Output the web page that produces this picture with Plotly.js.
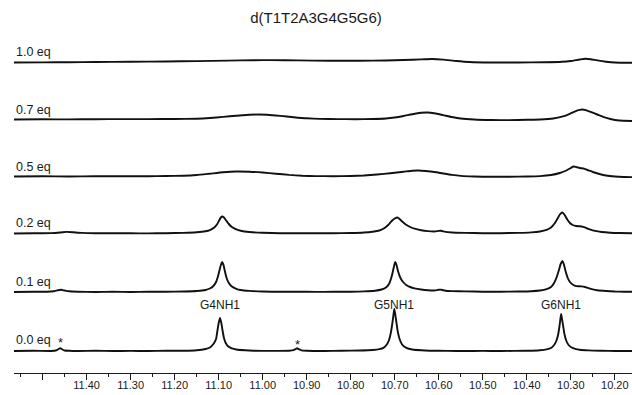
<!DOCTYPE html>
<html><head><meta charset="utf-8">
<script src="https://cdn.plot.ly/plotly-3.0.1.min.js"></script>
<style>html,body{margin:0;padding:0;background:#fff}#chart{width:632px;height:395px}</style>
</head><body><div id="chart"></div>
<script>
// ---- data (ppm, intensity) ----
const eqLabels = ['0.0 eq', '0.1 eq', '0.2 eq', '0.5 eq', '0.7 eq', '1.0 eq'];

const spec00 = [[11.565,0],[11.52,0.2],[11.48,0],[11.47,0.5],[11.465,1.5],[11.46,2.8],[11.455,1.5],[11.45,0.5],[11.44,0.2],[11.42,0],[11.38,0.2],[11.34,0],[11.30,0.1],[11.26,0],[11.22,0.2],[11.18,0.3],[11.15,0.8],[11.13,2],[11.12,3.5],[11.112,7],[11.106,12],[11.103,20],[11.100,28],[11.097,33],[11.094,28],[11.091,20],[11.088,13],[11.084,8],[11.078,4.5],[11.07,2.6],[11.06,1.5],[11.04,0.7],[11.02,0.3],[10.98,0.1],[10.94,0.2],[10.93,0.8],[10.925,2],[10.922,2.8],[10.918,1.8],[10.912,0.6],[10.90,0.2],[10.86,0],[10.82,0.2],[10.78,0.5],[10.75,1],[10.735,1.8],[10.725,3.4],[10.718,6.5],[10.713,11],[10.709,18],[10.706,26],[10.703,36],[10.701,42],[10.699,37],[10.696,28],[10.693,19],[10.689,12],[10.684,7],[10.678,4.2],[10.67,2.5],[10.66,1.5],[10.64,0.7],[10.62,0.3],[10.58,0.1],[10.54,0],[10.50,0.1],[10.46,0],[10.40,0.3],[10.37,0.8],[10.355,1.6],[10.345,3],[10.338,6],[10.333,10],[10.329,16],[10.326,24],[10.324,31],[10.322,37],[10.320,32],[10.317,24],[10.314,16],[10.310,10],[10.305,6],[10.298,3.5],[10.29,2.2],[10.28,1.3],[10.26,0.6],[10.23,0.2],[10.20,0],[10.161,0]];

const spec01 = [[11.565,0],[11.52,0.2],[11.49,0.3],[11.475,0.8],[11.465,1.8],[11.458,2.2],[11.45,1.5],[11.44,0.7],[11.42,0.3],[11.38,0],[11.34,0.2],[11.30,0],[11.26,0.2],[11.22,0.3],[11.18,0.5],[11.15,1],[11.13,2],[11.12,3.5],[11.112,6],[11.106,10],[11.102,15],[11.098,22],[11.095,27],[11.092,30],[11.089,27],[11.086,21],[11.082,14],[11.077,9],[11.07,5.5],[11.06,3.2],[11.05,2],[11.03,1.1],[11.00,0.5],[10.96,0.2],[10.92,0.3],[10.88,0.1],[10.84,0.2],[10.80,0.3],[10.77,0.6],[10.745,1.3],[10.73,2.5],[10.72,4.5],[10.713,8],[10.708,14],[10.704,21],[10.701,27],[10.699,30],[10.696,27],[10.692,20],[10.687,14],[10.681,10],[10.674,7],[10.665,5],[10.655,3.6],[10.64,2.5],[10.625,1.8],[10.61,1.5],[10.60,2.2],[10.594,2.3],[10.585,1.3],[10.57,0.9],[10.54,0.6],[10.50,0.3],[10.46,0.3],[10.42,0.5],[10.39,0.8],[10.37,1.5],[10.355,2.8],[10.345,5],[10.338,9],[10.332,15],[10.327,22],[10.323,28],[10.319,31],[10.316,28],[10.312,21],[10.307,14],[10.302,10],[10.296,7.5],[10.29,6.2],[10.283,5.8],[10.276,5.6],[10.268,5],[10.26,3.8],[10.25,2.6],[10.24,1.8],[10.22,1],[10.20,0.5],[10.18,0.3],[10.161,0.2]];

const spec02 = [[11.565,0],[11.52,0.2],[11.48,0.4],[11.46,1],[11.445,1.6],[11.43,1.2],[11.41,0.6],[11.38,0.3],[11.34,0.2],[11.30,0.2],[11.26,0.1],[11.22,0.3],[11.18,0.6],[11.15,1.2],[11.13,2.2],[11.12,3.4],[11.11,6],[11.104,9],[11.099,13],[11.095,16],[11.092,17],[11.088,16],[11.083,13],[11.077,9.5],[11.07,6.5],[11.06,4.2],[11.05,2.8],[11.03,1.5],[11.00,0.7],[10.96,0.3],[10.92,0.3],[10.88,0.2],[10.84,0.3],[10.80,0.5],[10.77,1],[10.75,1.8],[10.735,3],[10.725,5],[10.715,8.5],[10.707,12.5],[10.70,15],[10.694,16],[10.689,14.5],[10.683,12],[10.675,9],[10.665,6.5],[10.655,4.8],[10.64,3.3],[10.625,2.4],[10.61,2],[10.60,2.6],[10.595,2.7],[10.585,1.6],[10.57,1],[10.54,0.6],[10.50,0.3],[10.46,0.3],[10.42,0.6],[10.39,1.1],[10.37,2],[10.355,3.6],[10.345,6],[10.337,10],[10.33,15],[10.325,19],[10.319,21],[10.314,18.5],[10.308,14],[10.302,10.5],[10.296,8.5],[10.288,7.5],[10.28,7.2],[10.272,6.6],[10.265,5.5],[10.255,3.8],[10.245,2.6],[10.23,1.5],[10.21,0.8],[10.19,0.5],[10.161,0.3]];

const spec05 = [[11.565,0],[11.50,0.2],[11.44,0],[11.38,0.2],[11.32,0.3],[11.26,0.3],[11.22,0.5],[11.18,0.8],[11.15,1.5],[11.12,2.8],[11.09,4.2],[11.06,5],[11.03,4.8],[11.00,4],[10.97,2.8],[10.94,1.6],[10.91,0.8],[10.88,0.4],[10.84,0.3],[10.80,0.5],[10.77,1],[10.74,2],[10.71,3.3],[10.68,4.8],[10.66,5.8],[10.645,6],[10.63,5.5],[10.61,4.5],[10.59,3],[10.57,1.6],[10.55,0.6],[10.52,0],[10.48,-0.3],[10.44,-0.2],[10.40,0],[10.37,0.4],[10.345,1.5],[10.325,3.5],[10.31,6],[10.30,8.5],[10.294,10],[10.288,9.5],[10.28,8.5],[10.27,7.8],[10.26,6.2],[10.25,4.5],[10.235,2.5],[10.22,1],[10.20,0],[10.18,-0.5],[10.161,-0.6]];

const spec07 = [[11.565,0],[11.50,0.2],[11.44,0.1],[11.38,0.3],[11.32,0.4],[11.26,0.4],[11.20,0.5],[11.15,0.8],[11.12,1.5],[11.09,2.6],[11.06,3.8],[11.03,4.7],[11.01,5],[10.99,4.7],[10.96,3.6],[10.93,2.3],[10.90,1.2],[10.87,0.6],[10.83,0.4],[10.79,0.3],[10.75,0.5],[10.72,1],[10.70,2],[10.68,3.5],[10.66,5.3],[10.64,6.7],[10.626,7],[10.61,6.2],[10.59,4.4],[10.57,2.5],[10.55,1],[10.52,0],[10.48,-0.5],[10.44,-0.6],[10.40,-0.3],[10.37,0],[10.34,1],[10.32,2.8],[10.305,5.2],[10.29,8.2],[10.28,9.6],[10.274,10],[10.266,9.4],[10.255,7.6],[10.24,5],[10.225,2.4],[10.21,0.5],[10.19,-1],[10.161,-1.5]];

const spec10 = [[11.565,-0.5],[11.50,-0.4],[11.44,-0.2],[11.38,0],[11.30,0.2],[11.22,0.5],[11.15,0.9],[11.08,1.4],[11.02,1.8],[10.98,1.9],[10.92,1.6],[10.85,1.2],[10.78,1.3],[10.72,1.5],[10.68,2],[10.64,2.6],[10.615,3],[10.59,2.4],[10.56,1],[10.53,0],[10.48,-0.5],[10.42,-0.5],[10.36,-0.3],[10.32,0.2],[10.30,1],[10.28,2.5],[10.267,3.3],[10.255,2.8],[10.24,1.6],[10.22,0.3],[10.20,-0.5],[10.161,-0.8]];

const spectra = [spec00, spec01, spec02, spec05, spec07, spec10];

const peakLabels = ['G4NH1', 'G5NH1', 'G6NH1'];
const peakPpm = [11.097, 10.701, 10.322];
const starPpm = [11.46, 10.922];

const tickVals = [11.5, 11.4, 11.3, 11.2, 11.1, 11.0, 10.9, 10.8, 10.7, 10.6, 10.5, 10.4, 10.3, 10.2];
const tickText = ['', '11.40', '11.30', '11.20', '11.10', '11.00', '10.90', '10.80', '10.70', '10.60', '10.50', '10.40', '10.30', '10.20'];
const minorVals = [11.55, 11.45, 11.35, 11.25, 11.15, 11.05, 10.95, 10.85, 10.75, 10.65, 10.55, 10.45, 10.35, 10.25];

// ---- layout constants (vertical stacking in y-axis units = px above plot bottom) ----
const baseOffsets = [22, 81, 139.5, 196.5, 253.5, 311];
const labelY = [33, 91, 150, 206, 263, 321];
const FONT = 'Liberation Sans, Arial, sans-serif';
const INK = '#1a1a1a';

const traces = spectra.map((s, i) => ({
  type: 'scatter', mode: 'lines',
  x: s.map(p => p[0]),
  y: s.map(p => p[1] + baseOffsets[i]),
  line: {color: '#111', width: 1.9, shape: 'spline', smoothing: 0.5},
  hoverinfo: 'skip', showlegend: false
}));

const annotations = [];
eqLabels.forEach((t, i) => annotations.push({
  text: t, xref: 'paper', x: 0, xanchor: 'left', yref: 'y', y: labelY[i], yanchor: 'middle',
  showarrow: false, font: {family: FONT, size: 12.5, color: INK}
}));
peakLabels.forEach((t, i) => annotations.push({
  text: t, xref: 'x', x: peakPpm[i], xanchor: 'center', yref: 'y', y: 68, yanchor: 'middle',
  showarrow: false, font: {family: FONT, size: 12, color: INK}
}));
starPpm.forEach((p, i) => annotations.push({
  text: '*', xref: 'x', x: p, xanchor: 'center', yref: 'y', y: i === 0 ? 31 : 29, yanchor: 'middle',
  showarrow: false, font: {family: FONT, size: 13, color: INK}
}));
annotations.push({
  text: '<i>δ</i> / ppm', xref: 'paper', x: 0, xanchor: 'left', yref: 'y', y: -14, yanchor: 'middle',
  showarrow: false, font: {family: FONT, size: 11, color: INK}
});

const layout = {
  width: 632, height: 395,
  margin: {l: 14, r: 0, t: 0, b: 22, pad: 0},
  paper_bgcolor: '#fff', plot_bgcolor: '#fff',
  title: {text: 'd(T1T2A3G4G5G6)', xref: 'container', x: 0.5, xanchor: 'center',
          yref: 'container', y: 1 - 18 / 395, yanchor: 'middle',
          font: {family: FONT, size: 15, color: INK}},
  xaxis: {
    range: [11.565, 10.161], showgrid: false, zeroline: false,
    showline: true, linecolor: INK, linewidth: 1,
    tickmode: 'array', tickvals: tickVals, ticktext: tickText,
    ticks: 'outside', ticklen: 6, tickwidth: 1, tickcolor: INK,
    ticklabelstandoff: -4,
    tickfont: {family: FONT, size: 11, color: INK},
    minor: {tickmode: 'array', tickvals: minorVals, ticks: 'outside', ticklen: 3, tickwidth: 1, tickcolor: INK, showgrid: false}
  },
  yaxis: {range: [0, 373], visible: false, showgrid: false, zeroline: false, fixedrange: true},
  annotations: annotations
};

Plotly.newPlot('chart', traces, layout, {staticPlot: true, displayModeBar: false});
</script>
</body></html>
